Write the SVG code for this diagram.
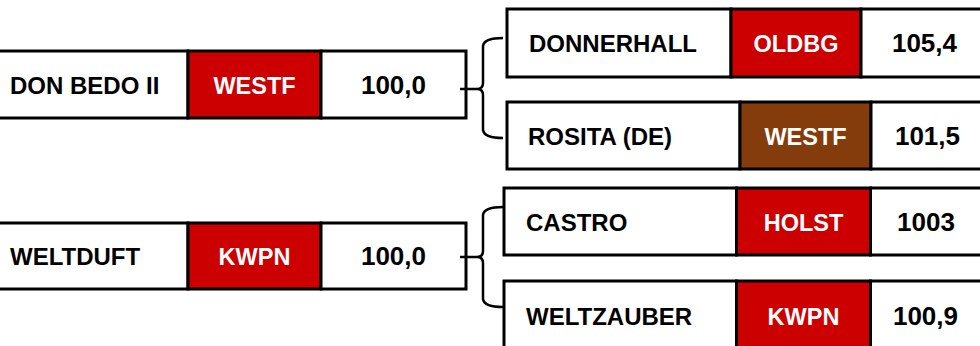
<svg xmlns="http://www.w3.org/2000/svg" width="980" height="346" viewBox="0 0 980 346">
<style>
.cell{fill:#ffffff;stroke:#000000;stroke-width:3}
.red{fill:#CC0000;stroke:#000000;stroke-width:3}
.brown{fill:#843C0C;stroke:#000000;stroke-width:3}
text{font-family:"Liberation Sans",Arial,sans-serif;font-weight:bold;font-size:24px}
.dk{fill:#000000}
.wt{fill:#ffffff;text-anchor:middle;font-size:23.5px}
.num{fill:#000000;text-anchor:middle;font-size:26px}
.br{fill:none;stroke:#000000;stroke-width:2.5}
</style>
<rect width="980" height="346" fill="#ffffff"/>
<g id="don-bedo-ii">
<rect class="cell" x="-5" y="51" width="193" height="67"/>
<rect class="red" x="188" y="51" width="133" height="67"/>
<rect class="cell" x="321" y="51" width="145" height="67"/>
<text class="dk" x="10" y="93.5">DON BEDO II</text>
<text class="wt" x="254.5" y="93.5">WESTF</text>
<text class="num" x="393.5" y="93.5">100,0</text>
</g>
<g id="weltduft">
<rect class="cell" x="-5" y="223" width="193" height="66"/>
<rect class="red" x="188" y="223" width="133" height="66"/>
<rect class="cell" x="321" y="223" width="145" height="66"/>
<text class="dk" x="10" y="265">WELTDUFT</text>
<text class="wt" x="254.5" y="265">KWPN</text>
<text class="num" x="393.5" y="265">100,0</text>
</g>
<g id="donnerhall">
<rect class="cell" x="507" y="9" width="224" height="68"/>
<rect class="red" x="731" y="9" width="130" height="68"/>
<rect class="cell" x="861" y="9" width="130" height="68"/>
<text class="dk" x="529" y="52">DONNERHALL</text>
<text class="wt" x="796" y="52">OLDBG</text>
<text class="num" x="924.5" y="52">105,4</text>
</g>
<g id="rosita-de">
<rect class="cell" x="507" y="102" width="233" height="67"/>
<rect class="brown" x="740" y="102" width="131" height="67"/>
<rect class="cell" x="871" y="102" width="130" height="67"/>
<text class="dk" x="528" y="144.5">ROSITA (DE)</text>
<text class="wt" x="805.5" y="144.5">WESTF</text>
<text class="num" x="927.5" y="144.5">101,5</text>
</g>
<g id="castro">
<rect class="cell" x="504" y="188" width="232.5" height="67"/>
<rect class="red" x="736.5" y="188" width="134" height="67"/>
<rect class="cell" x="870.5" y="188" width="130" height="67"/>
<text class="dk" x="526" y="230.5">CASTRO</text>
<text class="wt" x="803.5" y="230.5">HOLST</text>
<text class="num" x="926" y="230.5">1003</text>
</g>
<g id="weltzauber">
<rect class="cell" x="504" y="281" width="232.5" height="75"/>
<rect class="red" x="736.5" y="281" width="134" height="75"/>
<rect class="cell" x="870.5" y="281" width="130" height="75"/>
<text class="dk" x="526" y="324.5">WELTZAUBER</text>
<text class="wt" x="803.5" y="324.5">KWPN</text>
<text class="num" x="925.5" y="324.5">100,9</text>
</g>
<g id="connectors">
<path class="br" d="M460,89 L477,89 Q483,89 483,95 L483,130 Q484,138 503,138 M477,89 Q483,89 483,83 L483,46 Q484,38 503,38"/>
<path class="br" d="M460,257 L477,257 Q483,257 483,263 L483,299 Q484,307 503,307 M477,257 Q483,257 483,251 L483,215 Q484,207 503,207"/>
</g>
</svg>
